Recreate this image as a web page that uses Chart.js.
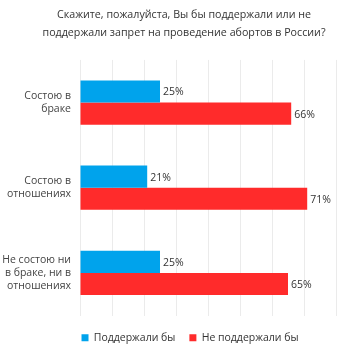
<!DOCTYPE html>
<html>
<head>
<meta charset="utf-8">
<script src="https://cdn.jsdelivr.net/npm/chart.js@4"></script>
<style>
  html, body { margin: 0; padding: 0; background: #fff; }
  #wrap { width: 345px; height: 356px; }
</style>
</head>
<body>
<div id="wrap"><canvas id="abortionChart" width="345" height="356"></canvas></div>
<script>
const categories = [
    ['Состою в', 'браке'],
    ['Состою в', 'отношениях'],
    ['Не состою ни', 'в браке, ни в', 'отношениях']
];
const seriesNames = ['Поддержали бы', 'Не поддержали бы'];
const supportValues = [25, 21, 25];
const opposeValues = [66, 71, 65];
const titleLines = [
    'Скажите, пожалуйста, Вы бы поддержали или не',
    'поддержали запрет на проведение абортов в России?'
];

// draws "25%" etc. just right of each bar
const valueLabels = {
    id: 'valueLabels',
    afterDatasetsDraw(chart) {
        const ctx = chart.ctx;
        ctx.save();
        ctx.font = '10.5px "Open Sans"';
        ctx.fillStyle = '#333';
        ctx.textAlign = 'left';
        ctx.textBaseline = 'middle';
        chart.data.datasets.forEach((ds, i) => {
            chart.getDatasetMeta(i).data.forEach((bar, j) => {
                ctx.fillText(ds.data[j] + '%', bar.x + 3, bar.y + 1);
            });
        });
        ctx.restore();
    }
};

// title and legend sit a bit right of the canvas centre in the original
const shiftBlocks = {
    id: 'shiftBlocks',
    afterLayout(chart) {
        const t = chart.titleBlock;
        if (t) { t.left += 16; t.right += 16; }
        const l = chart.legend;
        if (l) { l.left += 22; l.right += 22; l.top += 3; l.bottom += 3; }
    }
};

const ctx = document.getElementById('abortionChart').getContext('2d');
new Chart(ctx, {
    type: 'bar',
    data: {
        labels: categories,
        datasets: [{
            label: seriesNames[0],
            data: supportValues,
            backgroundColor: '#00a3ec',
            categoryPercentage: 0.52,
            barPercentage: 1
        }, {
            label: seriesNames[1],
            data: opposeValues,
            backgroundColor: '#ff2b2b',
            categoryPercentage: 0.52,
            barPercentage: 1
        }]
    },
    options: {
        indexAxis: 'y',
        responsive: false,
        animation: false,
        layout: {
            padding: { left: 0, right: 9, top: 0, bottom: 6 }
        },
        scales: {
            x: {
                min: 0,
                max: 80,
                ticks: { display: false, stepSize: 10 },
                grid: { color: '#ebebeb', drawTicks: false },
                border: { display: false }
            },
            y: {
                grid: { display: false, drawTicks: false },
                border: { display: false },
                ticks: {
                    padding: 9,
                    color: '#444',
                    font: { family: 'Open Sans', size: 10.5, lineHeight: 1.25 }
                },
                afterFit(scale) {
                    scale.width = 80;
                }
            }
        },
        plugins: {
            title: {
                display: true,
                text: titleLines,
                color: '#333',
                font: { family: 'Open Sans', size: 10.7, weight: 'normal', lineHeight: 1.68 },
                padding: { top: 6, bottom: 18 }
            },
            legend: {
                position: 'bottom',
                labels: {
                    boxWidth: 7,
                    boxHeight: 7,
                    padding: 14,
                    color: '#333',
                    font: { family: 'Open Sans', size: 10.5 }
                }
            },
            tooltip: { enabled: false }
        }
    },
    plugins: [valueLabels, shiftBlocks]
});
</script>
</body>
</html>
